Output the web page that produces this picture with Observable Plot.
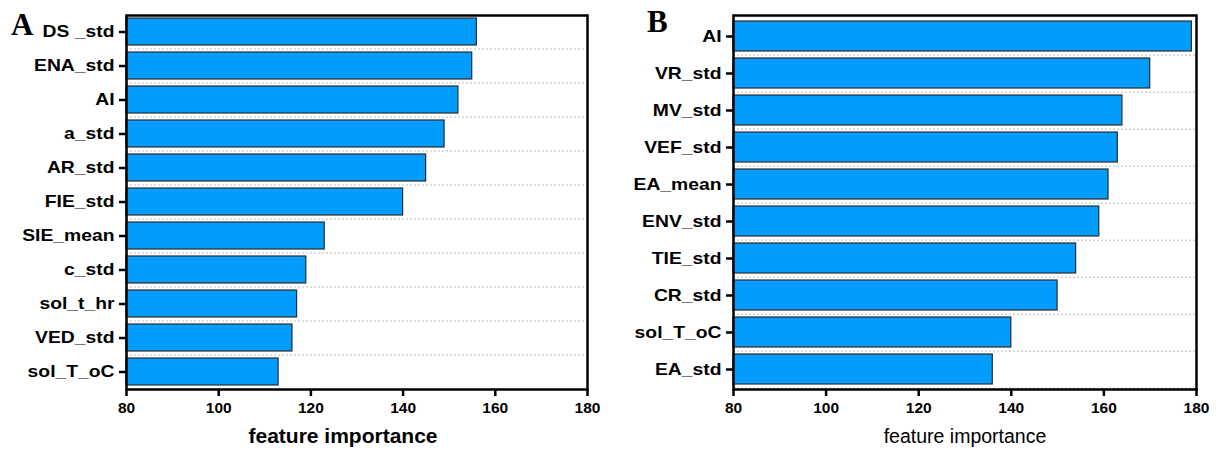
<!DOCTYPE html>
<html>
<head>
<meta charset="utf-8">
<script src="https://cdn.jsdelivr.net/npm/d3@7"></script>
<script src="https://cdn.jsdelivr.net/npm/@observablehq/plot@0.6"></script>
<style>
  html, body { margin: 0; padding: 0; background: #fff; }
  #wrap { position: relative; width: 1216px; height: 450px; display: flex; }
  .panel-tag { position: absolute; font-family: "Liberation Serif", "Times New Roman", serif; font-weight: bold; font-size: 31px; line-height: 1; }
  svg g[aria-label="y-axis tick label"] { font-size: 16.5px; font-weight: bold; }
  svg g[aria-label="x-axis tick label"] { font-size: 15.5px; font-weight: bold; }
</style>
</head>
<body>
<div id="wrap"></div>
<script>
// Feature importance, model A
const featuresA = ["DS _std", "ENA_std", "AI", "a_std", "AR_std", "FIE_std", "SIE_mean", "c_std", "sol_t_hr", "VED_std", "sol_T_oC"];
const importanceA = [156, 155, 152, 149, 145, 140, 123, 119, 117, 116, 113];

// Feature importance, model B
const featuresB = ["AI", "VR_std", "MV_std", "VEF_std", "EA_mean", "ENV_std", "TIE_std", "CR_std", "sol_T_oC", "EA_std"];
const importanceB = [179, 170, 164, 163, 161, 159, 154, 150, 140, 136];

// Shared x axis
const xDomain = [80, 180];
const xTicks = [80, 100, 120, 140, 160, 180];
const axisTitle = "feature importance";

function panel(features, values, {marginLeft, marginRight, title}) {
  const rows = features.map((f, i) => ({feature: f, value: values[i]}));
  const width = 608, height = 450;
  const marginTop = 15, marginBottom = 61;
  const step = (height - marginTop - marginBottom) / features.length;
  return Plot.plot({
    width, height, marginLeft, marginRight, marginTop, marginBottom,
    style: {fontFamily: "'Liberation Sans', Arial, sans-serif", color: "#000", background: "#fff"},
    x: {domain: xDomain, ticks: xTicks},
    y: {domain: features, paddingInner: 0.2, paddingOuter: 0.1},
    marks: [
      Plot.gridY({dy: step / 2, stroke: "#bbb", strokeOpacity: 1, strokeDasharray: "2,2", strokeWidth: 1}),
      Plot.barX(rows, {y: "feature", x1: xDomain[0], x2: "value", fill: "#009DFF", stroke: "#2b2b2b", strokeWidth: 1.2}),
      Plot.frame({stroke: "#000", strokeWidth: 2.5}),
      Plot.axisY({tickSize: 7, tickPadding: 5, strokeWidth: 2.5, stroke: "#000", label: null}),
      Plot.axisX({ticks: xTicks, tickSize: 7, tickPadding: 5, strokeWidth: 2.5, stroke: "#000", label: null}),
      Plot.text([axisTitle], {frameAnchor: "bottom", dy: 53, dx: title.dx, fill: "#000",
                  fontSize: title.size, fontWeight: title.weight,
                  letterSpacing: title.spacing})
    ]
  });
}

const wrap = document.getElementById("wrap");
wrap.append(panel(featuresA, importanceA, {marginLeft: 126, marginRight: 21,
  title: {size: 21, weight: "bold", spacing: "0.5px", dx: -14}}));
wrap.append(panel(featuresB, importanceB, {marginLeft: 125, marginRight: 20,
  title: {size: 19.5, weight: "normal", spacing: "0.1px", dx: 0}}));

// Category labels are set slightly wide: stretch each glyph run horizontally.
wrap.querySelectorAll('g[aria-label="y-axis tick label"] text').forEach(t => {
  const w = t.getComputedTextLength();
  t.setAttribute("lengthAdjust", "spacingAndGlyphs");
  t.setAttribute("textLength", (w * 1.17).toFixed(1));
});

for (const [tag, left, top] of [["A", 11, 9], ["B", 647, 6]]) {
  const d = document.createElement("div");
  d.className = "panel-tag";
  d.textContent = tag;
  d.style.left = left + "px";
  d.style.top = top + "px";
  wrap.append(d);
}
</script>
</body>
</html>
